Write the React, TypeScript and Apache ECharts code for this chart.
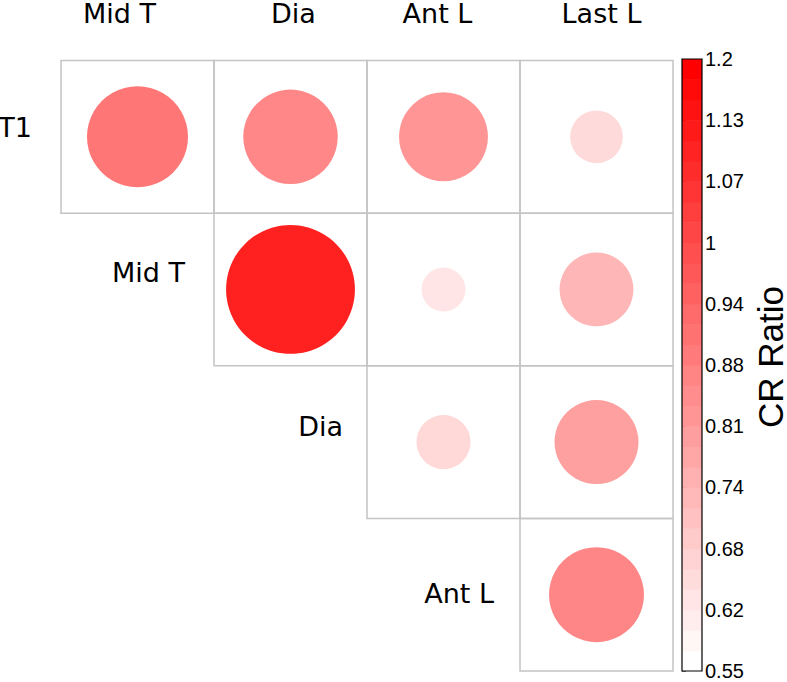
import React, { useEffect, useRef } from "react";
import * as echarts from "echarts";

const colLabels = ["Mid T", "Dia", "Ant L", "Last L"];
const rowLabels = ["T1", "Mid T", "Dia", "Ant L"];
const cellRows = [0, 0, 0, 0, 1, 1, 1, 2, 2, 3];
const cellCols = [0, 1, 2, 3, 1, 2, 3, 2, 3, 3];
const cellValues = [0.9, 0.856, 0.821, 0.645, 1.119, 0.616, 0.737, 0.65, 0.792, 0.859];
const barTickLabels = ["0.55", "0.62", "0.68", "0.74", "0.81", "0.88", "0.94", "1", "1.07", "1.13", "1.2"];
const valueMin = 0.55;
const valueMax = 1.2;
const barSteps = 30;

// style nudges (px) for text placement
const topLabelShift = [-18, 3, -6, 5];
const rowLabelNudge: [number, number][] = [[0, -9], [0, -17], [5, -16], [3, -1]];

const GRID_LEFT = 61;
const GRID_TOP = 59;
const GRID_SIZE = 612;
const CELL_PX = GRID_SIZE / 4;

function frac(v: number) {
  return Math.max(0, Math.min(1, (v - valueMin) / (valueMax - valueMin)));
}
function colorFor(f: number) {
  const g = Math.round(255 * (1 - f));
  return `rgb(255,${g},${g})`;
}

export default function App() {
  const ref = useRef<HTMLDivElement>(null);
  useEffect(() => {
    if (!ref.current) return;
    const chart = echarts.init(ref.current, undefined, { renderer: "svg" });
    const cells = cellValues.map((v, i) => [cellCols[i], cellRows[i], v]);
    const circles = cellValues.map((v, i) => [cellCols[i] + 0.5, cellRows[i] + 0.5, v]);
    const rowLabelData = rowLabels.map((name, i) => ({
      value: [i, i + 0.5],
      name,
      label: { offset: rowLabelNudge[i] },
    }));
    const bands = Array.from({ length: barSteps }, (_, i) => i);

    const option: any = {
      animation: false,
      backgroundColor: "#ffffff",
      grid: [
        { left: GRID_LEFT, top: GRID_TOP, width: GRID_SIZE, height: GRID_SIZE },
        { left: 682, top: 59, width: 20, height: 612 },
      ],
      xAxis: [
        { type: "value", gridIndex: 0, min: 0, max: 4, show: false },
        {
          type: "category",
          gridIndex: 0,
          position: "top",
          data: colLabels,
          axisLine: { show: false },
          axisTick: { show: false },
          axisLabel: {
            margin: 35,
            interval: 0,
            formatter: (v: string) => {
              const i = colLabels.indexOf(v);
              return `{a${i}|${v}}`;
            },
            rich: Object.fromEntries(
              topLabelShift.map((s, i) => [
                `a${i}`,
                {
                  fontFamily: "DejaVu Sans",
                  fontSize: 27,
                  lineHeight: 24,
                  color: "#000",
                  padding: [0, s < 0 ? -2 * s : 0, 0, s > 0 ? 2 * s : 0],
                },
              ])
            ),
          },
        },
        { type: "value", gridIndex: 1, min: 0, max: 1, show: false },
      ],
      yAxis: [
        { type: "value", gridIndex: 0, min: 0, max: 4, inverse: true, show: false },
        {
          type: "value",
          gridIndex: 1,
          min: 0,
          max: 10,
          interval: 1,
          position: "right",
          axisLine: { show: false },
          axisTick: { show: true, length: 4, lineStyle: { color: "#000", width: 1 } },
          splitLine: { show: false },
          axisLabel: {
            margin: 3,
            formatter: (v: number) => barTickLabels[Math.round(v)] ?? "",
            fontFamily: "Liberation Sans",
            fontSize: 20,
            color: "#000",
            padding: [5, 0, 0, 0],
          },
        },
      ],
      series: [
        {
          type: "custom",
          xAxisIndex: 0,
          yAxisIndex: 0,
          data: cells,
          renderItem: (params: any, api: any) => {
            const c = api.value(0);
            const r = api.value(1);
            const p0 = api.coord([c, r]);
            const p1 = api.coord([c + 1, r + 1]);
            return {
              type: "rect",
              shape: { x: p0[0], y: p0[1], width: p1[0] - p0[0], height: p1[1] - p0[1] },
              style: { fill: "none", stroke: "#c4c4c4", lineWidth: 1.5 },
            };
          },
          z: 1,
        },
        {
          type: "scatter",
          xAxisIndex: 0,
          yAxisIndex: 0,
          data: circles,
          symbol: "circle",
          symbolSize: (val: number[]) => 2 * 0.45 * CELL_PX * Math.sqrt(frac(val[2])),
          itemStyle: {
            color: (p: any) => colorFor(frac(p.value[2])),
            opacity: 1,
          },
          z: 2,
        },
        {
          type: "scatter",
          xAxisIndex: 0,
          yAxisIndex: 0,
          data: rowLabelData,
          symbolSize: 0,
          itemStyle: { opacity: 1 },
          label: {
            show: true,
            position: "left",
            distance: 29,
            formatter: (p: any) => p.name,
            fontFamily: "DejaVu Sans",
            fontSize: 27,
            color: "#000000",
            opacity: 1,
            textBorderWidth: 0,
          },
          z: 3,
        },
        {
          type: "custom",
          xAxisIndex: 2,
          yAxisIndex: 1,
          data: bands,
          renderItem: (params: any, api: any) => {
            const i = api.value(0);
            const y0 = (i / barSteps) * 10;
            const y1 = ((i + 1) / barSteps) * 10;
            const pTop = api.coord([0, y1]);
            const pBot = api.coord([1, y0]);
            const f = i / (barSteps - 1);
            return {
              type: "rect",
              shape: { x: pTop[0], y: pTop[1], width: pBot[0] - pTop[0], height: pBot[1] - pTop[1] + 0.5 },
              style: { fill: colorFor(f), stroke: null },
            };
          },
          z: 1,
        },
        {
          type: "custom",
          xAxisIndex: 2,
          yAxisIndex: 1,
          data: [0],
          renderItem: (params: any, api: any) => {
            const pTop = api.coord([0, 10]);
            const pBot = api.coord([1, 0]);
            return {
              type: "rect",
              shape: { x: pTop[0], y: pTop[1], width: pBot[0] - pTop[0], height: pBot[1] - pTop[1] },
              style: { fill: "none", stroke: "#000", lineWidth: 1.2 },
            };
          },
          z: 2,
        },
      ],
      graphic: [
        {
          type: "text",
          x: 770,
          y: 357,
          rotation: Math.PI / 2,
          style: {
            text: "CR Ratio",
            fontFamily: "Liberation Sans",
            fontSize: 35,
            lineHeight: 30,
            fill: "#000",
            textAlign: "center",
            textVerticalAlign: "middle",
          },
        },
      ],
    };
    chart.setOption(option);
    return () => chart.dispose();
  }, []);
  return (
    <div
      ref={ref}
      style={{ position: "fixed", left: 0, top: 0, width: 787, height: 682, background: "#fff" }}
    />
  );
}
